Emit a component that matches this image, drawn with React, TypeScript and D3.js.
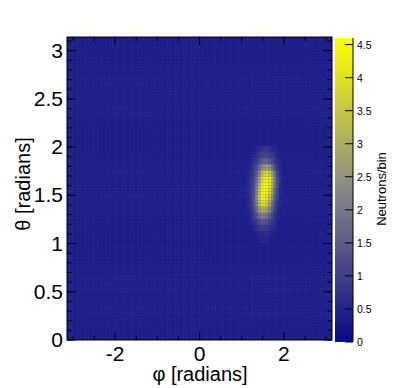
import React from "react";
import * as d3 from "d3";

// histogram binning
const PHI_BINS = 100;
const THETA_BINS = 100;
const BACKGROUND_LEVEL = 0.4;

// hot spot: columns are phi bins 67..82,
// each row covers two theta bins, listed from high theta to low theta
const SPOT_PHI_START = 67;
const SPOT_THETA_TOP = 62;
const SPOT = [
  [0.4, 0.4, 0.4, 0.4, 0.5, 0.6, 0.7, 0.8, 0.8, 0.7, 0.6, 0.5, 0.4, 0.4, 0.4, 0.4],
  [0.4, 0.4, 0.4, 0.5, 0.7, 0.9, 1.0, 1.1, 1.1, 1.0, 0.9, 0.7, 0.5, 0.4, 0.4, 0.4],
  [0.4, 0.4, 0.5, 0.7, 0.9, 1.2, 1.5, 1.7, 1.7, 1.5, 1.2, 0.9, 0.6, 0.5, 0.4, 0.4],
  [0.4, 0.4, 0.6, 0.8, 1.2, 1.7, 2.3, 2.7, 2.8, 2.5, 1.9, 1.3, 0.8, 0.5, 0.4, 0.4],
  [0.4, 0.5, 0.7, 1.0, 1.5, 2.3, 3.3, 3.9, 4.1, 3.7, 2.8, 1.8, 1.0, 0.6, 0.4, 0.4],
  [0.4, 0.5, 0.8, 1.1, 1.8, 2.8, 3.9, 4.5, 4.6, 4.3, 3.3, 2.1, 1.2, 0.7, 0.4, 0.4],
  [0.4, 0.6, 0.8, 1.2, 2.0, 3.2, 4.2, 4.6, 4.6, 4.2, 3.2, 2.0, 1.1, 0.6, 0.4, 0.4],
  [0.4, 0.6, 0.9, 1.3, 2.2, 3.5, 4.4, 4.6, 4.5, 3.9, 2.8, 1.7, 1.0, 0.6, 0.4, 0.4],
  [0.4, 0.6, 0.9, 1.4, 2.3, 3.6, 4.4, 4.5, 4.2, 3.5, 2.4, 1.5, 0.9, 0.5, 0.4, 0.4],
  [0.4, 0.5, 0.8, 1.3, 2.1, 3.3, 4.0, 4.1, 3.7, 2.9, 2.0, 1.2, 0.7, 0.5, 0.4, 0.4],
  [0.4, 0.5, 0.7, 1.1, 1.7, 2.6, 3.1, 3.1, 2.8, 2.2, 1.5, 1.0, 0.6, 0.4, 0.4, 0.4],
  [0.4, 0.4, 0.6, 0.9, 1.3, 1.8, 2.1, 2.1, 1.9, 1.5, 1.1, 0.7, 0.5, 0.4, 0.4, 0.4],
  [0.4, 0.4, 0.5, 0.7, 0.9, 1.2, 1.4, 1.4, 1.3, 1.1, 0.8, 0.6, 0.4, 0.4, 0.4, 0.4],
  [0.4, 0.4, 0.4, 0.5, 0.7, 0.8, 0.9, 0.9, 0.9, 0.7, 0.6, 0.5, 0.4, 0.4, 0.4, 0.4],
  [0.4, 0.4, 0.4, 0.4, 0.5, 0.6, 0.6, 0.6, 0.6, 0.5, 0.5, 0.4, 0.4, 0.4, 0.4, 0.4],
  [0.4, 0.4, 0.4, 0.4, 0.4, 0.4, 0.5, 0.5, 0.5, 0.4, 0.4, 0.4, 0.4, 0.4, 0.4, 0.4],
];

const X_TICKS = [-2, 0, 2];
const Y_TICKS = [0, 0.5, 1, 1.5, 2, 2.5, 3];
const Z_TICKS = [0, 0.5, 1, 1.5, 2, 2.5, 3, 3.5, 4, 4.5];
const Z_MAX = 4.6;

const FONT = "'Liberation Sans', Arial, Helvetica, sans-serif";

const W = 397, H = 388;
const frame = { left: 67, right: 332, top: 37, bottom: 340 };
const bar = { left: 335, right: 353, top: 38, bottom: 342 };

function binValue(i: number, j: number) {
  const c = i - SPOT_PHI_START;
  const r = Math.floor((SPOT_THETA_TOP + 1 - j) / 2);
  if (c >= 0 && c < SPOT[0].length && r >= 0 && r < SPOT.length) return SPOT[r][c];
  return BACKGROUND_LEVEL;
}

export default function App() {
  const x = d3.scaleLinear().domain([-Math.PI, Math.PI]).range([frame.left, frame.right]);
  const y = d3.scaleLinear().domain([0, Math.PI]).range([frame.bottom, frame.top]);
  const z = d3.scaleLinear().domain([0, Z_MAX]).range([bar.bottom, bar.top]);
  const color = d3
    .scaleLinear<string>()
    .domain([0, Z_MAX / 2, Z_MAX])
    .range(["#08088a", "#888888", "#ffff00"])
    .interpolate(d3.interpolateRgb)
    .clamp(true);

  const dphi = (2 * Math.PI) / PHI_BINS;
  const dtheta = Math.PI / THETA_BINS;

  const cells: React.ReactNode[] = [];
  for (let i = 0; i < PHI_BINS; i++) {
    for (let j = 0; j < THETA_BINS; j++) {
      const x0 = x(-Math.PI + i * dphi);
      const x1 = x(-Math.PI + (i + 1) * dphi);
      const y0 = y((j + 1) * dtheta);
      const y1 = y(j * dtheta);
      cells.push(
        <rect key={i * 1000 + j} x={x0} y={y0} width={x1 - x0} height={y1 - y0} fill={color(binValue(i, j))} />
      );
    }
  }

  const xMinor = d3.range(-3, 3.01, 0.5).filter(v => !X_TICKS.includes(v));
  const yMinor = d3.range(0, 3.15, 0.1);

  const gradStops = d3.range(0, 1.0001, 0.05);

  return (
    <svg width={W} height={H} style={{ position: "absolute", left: 0, top: 0, background: "#fff" }} fontFamily={FONT}>
      <defs>
        <linearGradient id="pal" x1="0" y1="1" x2="0" y2="0">
          {gradStops.map(t => (
            <stop key={t} offset={t} stopColor={color(t * Z_MAX)} />
          ))}
        </linearGradient>
      </defs>

      <rect x={frame.left} y={frame.top} width={frame.right - frame.left} height={frame.bottom - frame.top} fill="#3a3fa0" />
      <g>{cells}</g>

      {/* frame ticks */}
      <g stroke="#000" strokeWidth={1}>
        {X_TICKS.map(v => (
          <g key={"xM" + v}>
            <line x1={x(v)} x2={x(v)} y1={frame.bottom} y2={frame.bottom - 8} />
            <line x1={x(v)} x2={x(v)} y1={frame.top} y2={frame.top + 8} />
          </g>
        ))}
        {xMinor.map(v => (
          <g key={"xm" + v}>
            <line x1={x(v)} x2={x(v)} y1={frame.bottom} y2={frame.bottom - 4} />
            <line x1={x(v)} x2={x(v)} y1={frame.top} y2={frame.top + 4} />
          </g>
        ))}
        {Y_TICKS.map(v => (
          <g key={"yM" + v}>
            <line x1={frame.left} x2={frame.left + 9} y1={y(v)} y2={y(v)} />
            <line x1={frame.right} x2={frame.right - 9} y1={y(v)} y2={y(v)} />
          </g>
        ))}
        {yMinor.map(v => (
          <g key={"ym" + v}>
            <line x1={frame.left} x2={frame.left + 4.5} y1={y(v)} y2={y(v)} />
            <line x1={frame.right} x2={frame.right - 4.5} y1={y(v)} y2={y(v)} />
          </g>
        ))}
      </g>
      <rect x={frame.left} y={frame.top} width={frame.right - frame.left} height={frame.bottom - frame.top}
        fill="none" stroke="#000" strokeWidth={1} />

      {/* axis labels */}
      <g fontSize={21} fill="#000">
        {X_TICKS.map(v => (
          <text key={"xl" + v} x={x(v)} y={361} textAnchor="middle">{v}</text>
        ))}
        {Y_TICKS.map(v => (
          <text key={"yl" + v} x={63} y={y(v) + 7} textAnchor="end">{v}</text>
        ))}
      </g>
      <g fontSize={20} fill="#000">
        <text x={200} y={381} textAnchor="middle">φ [radians]</text>
        <text transform={`translate(30,${184}) rotate(-90)`} textAnchor="middle">θ [radians]</text>
      </g>

      {/* colour bar */}
      <rect x={bar.left} y={bar.top} width={bar.right - bar.left} height={bar.bottom - bar.top} fill="url(#pal)" />
      <g stroke="#000">
        {Z_TICKS.map(v => (
          <line key={"zt" + v} x1={bar.right - 8} x2={bar.right} y1={z(v)} y2={z(v)} />
        ))}
        <line x1={bar.right} x2={bar.right} y1={bar.top} y2={bar.bottom} />
      </g>
      <g fontSize={10.5} fill="#000">
        {Z_TICKS.map(v => (
          <text key={"zl" + v} x={357} y={z(v) + 4}>{v}</text>
        ))}
      </g>
      <text transform={`translate(386,${189}) rotate(-90)`} textAnchor="middle" fontSize={13}>Neutrons/bin</text>
    </svg>
  );
}
